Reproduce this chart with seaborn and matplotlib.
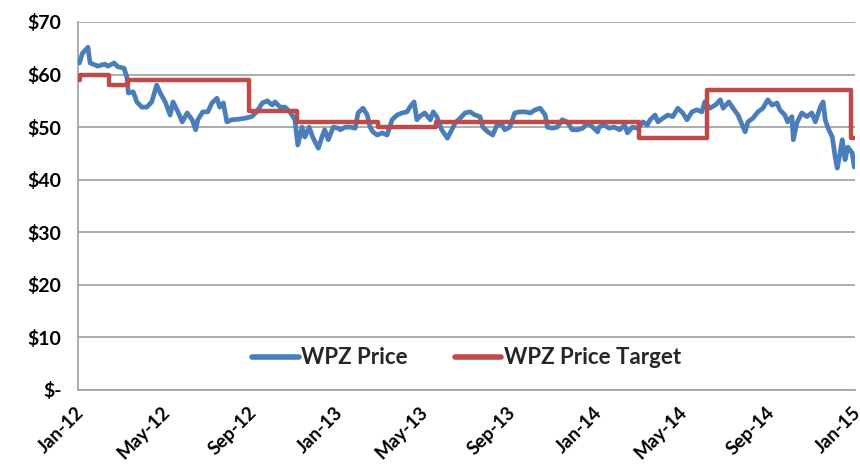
import matplotlib
matplotlib.use("Agg")
import matplotlib.pyplot as plt
import matplotlib.dates as mdates
import matplotlib.transforms as mtransforms
import seaborn as sns
import pandas as pd

price_dates = [
    "2012-01-03", "2012-01-07", "2012-01-15", "2012-01-18", "2012-01-22", "2012-01-29",
    "2012-02-08", "2012-02-12", "2012-02-21", "2012-02-26", "2012-03-06", "2012-03-10",
    "2012-03-12", "2012-03-19", "2012-03-24", "2012-03-31", "2012-04-07", "2012-04-14",
    "2012-04-21", "2012-04-26", "2012-05-03", "2012-05-10", "2012-05-14", "2012-05-21",
    "2012-05-27", "2012-06-03", "2012-06-10", "2012-06-15", "2012-06-18", "2012-06-25",
    "2012-07-02", "2012-07-08", "2012-07-15", "2012-07-19", "2012-07-24", "2012-07-29",
    "2012-08-05", "2012-08-14", "2012-08-24", "2012-09-02", "2012-09-09", "2012-09-17",
    "2012-09-24", "2012-10-01", "2012-10-05", "2012-10-12", "2012-10-19", "2012-10-26",
    "2012-11-02", "2012-11-06", "2012-11-12", "2012-11-16", "2012-11-22", "2012-11-27",
    "2012-12-05", "2012-12-10", "2012-12-14", "2012-12-19", "2012-12-26", "2013-01-02",
    "2013-01-05", "2013-01-12", "2013-01-19", "2013-01-26", "2013-01-30", "2013-02-06",
    "2013-02-12", "2013-02-16", "2013-02-20", "2013-02-26", "2013-03-05", "2013-03-12",
    "2013-03-19", "2013-03-26", "2013-04-02", "2013-04-09", "2013-04-13", "2013-04-19",
    "2013-04-23", "2013-04-27", "2013-05-04", "2013-05-12", "2013-05-16", "2013-05-21",
    "2013-05-28", "2013-06-05", "2013-06-09", "2013-06-16", "2013-06-23", "2013-06-30",
    "2013-07-07", "2013-07-14", "2013-07-21", "2013-07-25", "2013-08-01", "2013-08-08",
    "2013-08-14", "2013-08-21", "2013-08-25", "2013-09-01", "2013-09-08", "2013-09-15",
    "2013-09-23", "2013-09-30", "2013-10-07", "2013-10-14", "2013-10-21", "2013-10-24",
    "2013-10-31", "2013-11-07", "2013-11-14", "2013-11-21", "2013-11-28", "2013-12-06",
    "2013-12-13", "2013-12-20", "2013-12-27", "2014-01-03", "2014-01-05", "2014-01-12",
    "2014-01-19", "2014-01-26", "2014-02-03", "2014-02-10", "2014-02-14", "2014-02-21",
    "2014-03-01", "2014-03-08", "2014-03-14", "2014-03-18", "2014-03-25", "2014-03-29",
    "2014-04-05", "2014-04-12", "2014-04-19", "2014-04-26", "2014-05-03", "2014-05-09",
    "2014-05-16", "2014-05-23", "2014-05-30", "2014-06-03", "2014-06-10", "2014-06-18",
    "2014-06-25", "2014-06-29", "2014-07-07", "2014-07-13", "2014-07-20", "2014-07-26",
    "2014-07-30", "2014-08-03", "2014-08-10", "2014-08-17", "2014-08-24", "2014-08-31",
    "2014-09-06", "2014-09-13", "2014-09-17", "2014-09-24", "2014-09-28", "2014-10-04",
    "2014-10-06", "2014-10-11", "2014-10-18", "2014-10-25", "2014-11-01", "2014-11-06",
    "2014-11-13", "2014-11-17", "2014-11-20", "2014-11-24", "2014-11-30", "2014-12-04",
    "2014-12-07", "2014-12-11", "2014-12-14", "2014-12-18", "2014-12-22", "2014-12-28",
    "2014-12-31",
]
price_values = [
    62.2, 64.0, 65.2, 62.2, 62.0, 61.6,
    62.0, 61.6, 62.2, 61.5, 61.2, 59.5,
    56.5, 56.7, 54.8, 53.8, 53.8, 54.8,
    58.0, 56.5, 54.8, 52.3, 54.8, 52.9,
    51.0, 52.7, 51.4, 49.5, 51.4, 52.9,
    52.9, 54.6, 55.5, 53.8, 54.6, 51.0,
    51.4, 51.5, 51.7, 52.0, 52.9, 54.6,
    55.0, 54.2, 54.8, 53.8, 53.8, 52.9,
    51.4, 46.6, 50.0, 48.1, 50.0, 48.1,
    46.0, 48.1, 49.5, 47.6, 50.0, 49.8,
    49.5, 50.0, 50.0, 49.8, 52.7, 53.6,
    52.3, 50.0, 49.1, 48.5, 48.9, 48.5,
    51.4, 52.3, 52.7, 52.9, 53.8, 54.8,
    51.4, 52.0, 52.7, 51.4, 52.9, 52.0,
    49.5, 47.9, 48.9, 50.8, 51.7, 52.7,
    52.9, 52.3, 52.0, 50.0, 49.1, 48.5,
    50.4, 50.4, 49.5, 50.0, 52.7, 52.9,
    52.9, 52.7, 53.3, 53.6, 52.3, 50.0,
    49.8, 50.0, 51.4, 51.0, 49.5, 49.5,
    49.8, 50.8, 50.0, 49.1, 50.0, 50.4,
    49.8, 50.0, 49.5, 50.4, 48.9, 50.0,
    49.8, 51.0, 50.4, 51.4, 52.3, 51.0,
    51.7, 52.3, 52.0, 53.6, 52.7, 51.4,
    52.9, 53.3, 52.9, 54.8, 53.6, 54.2,
    55.2, 53.6, 54.8, 53.6, 52.3, 50.4,
    49.1, 51.0, 51.7, 52.9, 53.6, 55.2,
    54.2, 54.6, 53.3, 52.3, 51.0, 52.0,
    47.6, 50.8, 52.7, 52.0, 52.7, 51.0,
    53.8, 54.8, 51.4, 49.8, 48.1, 44.3,
    42.2, 45.1, 47.6, 43.8, 46.2, 45.1,
    42.4,
]

target_dates = [
    "2012-01-01", "2012-01-04", "2012-02-14", "2012-03-12", "2012-08-29",
    "2012-11-05", "2013-02-27", "2013-05-20", "2014-03-02", "2014-06-06",
    "2014-12-26", "2015-01-01",
]
target_values = [59, 60, 58, 59, 53, 51, 50, 51, 48, 57, 48, 48]

y_ticks = [0, 10, 20, 30, 40, 50, 60, 70]
y_tick_labels = ["$-", "$10", "$20", "$30", "$40", "$50", "$60", "$70"]

series_names = ["WPZ Price", "WPZ Price Target"]
series_colors = ["#4A7EBB", "#BE4B48"]

price_df = pd.DataFrame({"date": pd.to_datetime(price_dates), "value": price_values})
target_df = pd.DataFrame({"date": pd.to_datetime(target_dates), "value": target_values})

sns.set_style("white")
plt.rcParams["font.family"] = ["Lato", "DejaVu Sans"]

fig = plt.figure(figsize=(8.6, 4.73), dpi=100)
ax = fig.add_axes([0.0907, 0.1755, 0.9035, 0.778])

sns.lineplot(data=price_df, x="date", y="value", ax=ax, color=series_colors[0],
             linewidth=3.4, label=series_names[0], zorder=3)
sns.lineplot(data=target_df, x="date", y="value", ax=ax, color=series_colors[1],
             linewidth=3.2, label=series_names[1], drawstyle="steps-post", zorder=4)

ax.set_xlim(pd.Timestamp("2012-01-01"), pd.Timestamp("2015-01-01"))
ax.set_ylim(0, 70)
ax.set_yticks(y_ticks)
ax.set_yticklabels(y_tick_labels, fontsize=14, fontweight="bold")
ax.xaxis.set_major_locator(mdates.MonthLocator(bymonth=[1, 5, 9]))
ax.xaxis.set_major_formatter(mdates.DateFormatter("%b-%y"))

ax.set_xlabel("")
ax.set_ylabel("")
ax.grid(axis="y", color="#A6A6A6", linewidth=1.3)
ax.grid(axis="x", visible=False)
ax.set_axisbelow(True)
for side in ["top", "right"]:
    ax.spines[side].set_visible(False)
for side in ["left", "bottom"]:
    ax.spines[side].set_color("#A6A6A6")
    ax.spines[side].set_linewidth(1.3)
ax.tick_params(axis="x", direction="out", length=6, width=1.3, color="#A6A6A6", pad=3, labelcolor="black")
ax.tick_params(axis="y", direction="out", length=7, width=1.3, color="#A6A6A6", pad=5, labelcolor="black")

fig.canvas.draw()
shift = mtransforms.ScaledTranslation(-3 / 100, -1 / 100, fig.dpi_scale_trans)
for tick in ax.xaxis.get_major_ticks():
    lbl = tick.label1
    lbl.set_rotation(45)
    lbl.set_ha("right")
    lbl.set_rotation_mode("anchor")
    lbl.set_fontsize(13.5)
    lbl.set_fontweight("bold")
    lbl.set_transform(lbl.get_transform() + shift)

leg = ax.legend(loc="center", bbox_to_anchor=(0.5, 0.087), ncol=2, frameon=False,
                prop={"family": ["Lato", "DejaVu Sans"], "weight": "bold", "size": 16},
                handlelength=2.1, handletextpad=0.12, columnspacing=2.1)
for line in leg.get_lines():
    line.set_linewidth(4)

fig.savefig("out.png", dpi=100)
